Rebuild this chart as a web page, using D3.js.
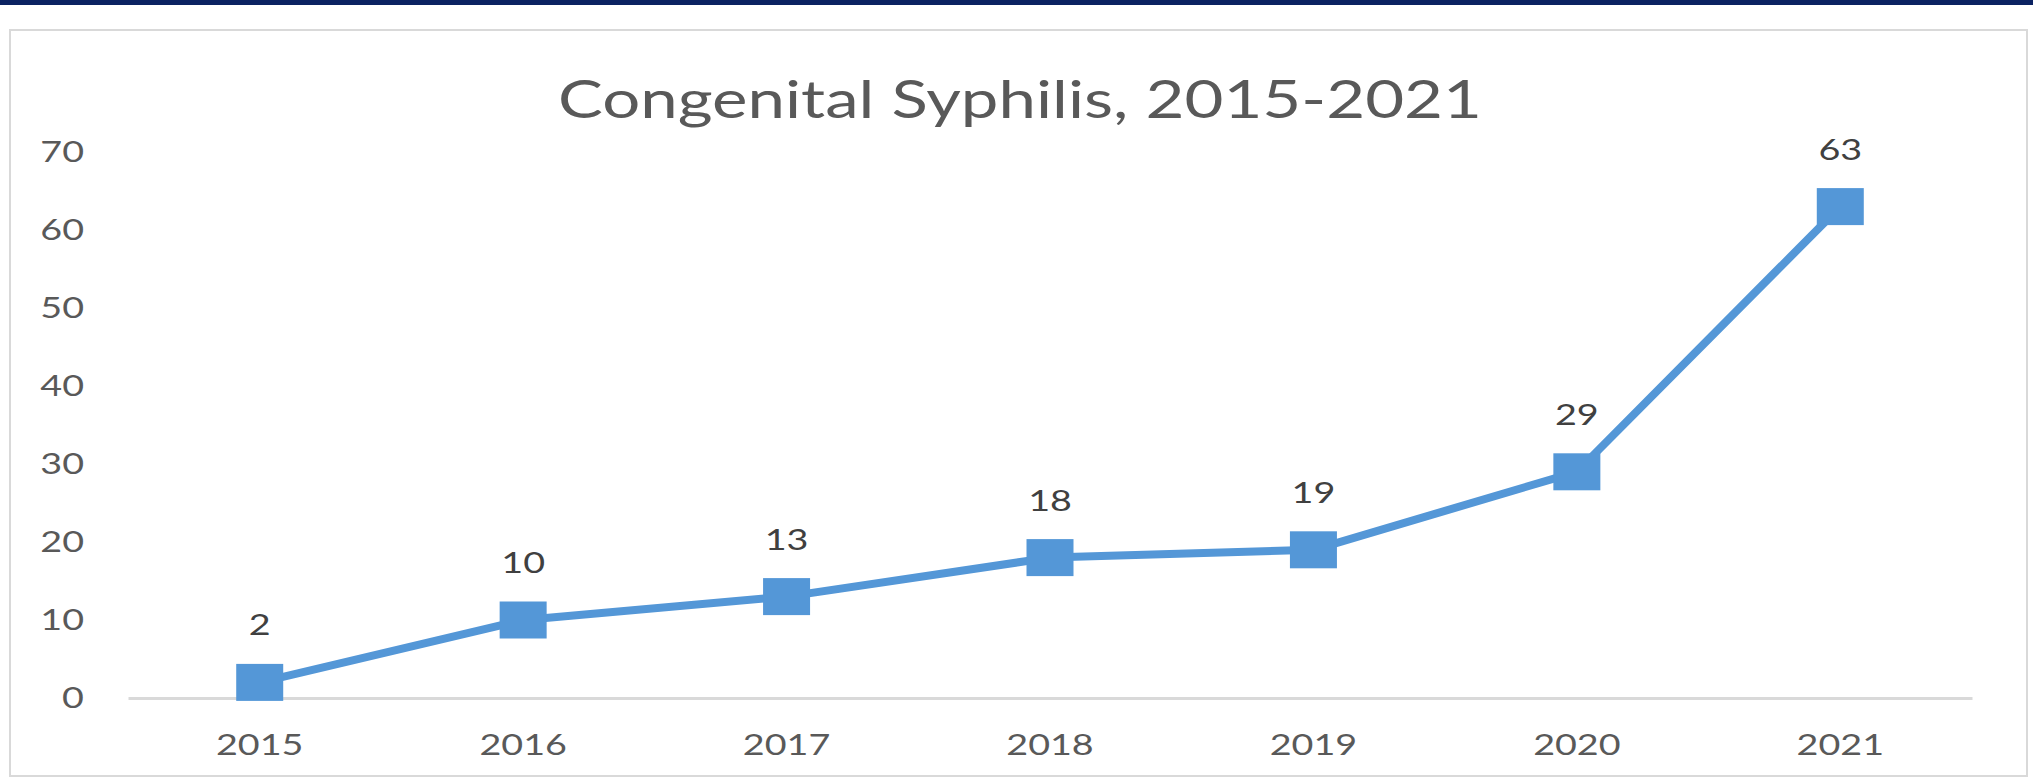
<html>
<head>
	<script src="https://d3js.org/d3.v7.min.js"></script>
	<style>
		body { margin: 0; background: #ffffff; }
		text { font-family: Lato, "Open Sans", sans-serif; }
	</style>
</head>
<body>
	<div id="viz"></div>

	<script>
	// data
	var title = "Congenital Syphilis, 2015-2021";
	var years = ["2015", "2016", "2017", "2018", "2019", "2020", "2021"];
	var cases = [2, 10, 13, 18, 19, 29, 63];
	var yTicks = [0, 10, 20, 30, 40, 50, 60, 70];

	var W = 2033, H = 783;
	var SX = 1.3; // picture is stretched sideways, so are the letters
	var blue = "#5497d7";

	var svg = d3.select("#viz").append("svg")
		.attr("width", W).attr("height", H);

	// navy strip at the very top
	svg.append("rect")
		.attr("x", 0).attr("y", 0).attr("width", W).attr("height", 5)
		.style("fill", "#0b2262");

	// chart frame
	svg.append("rect")
		.attr("x", 10).attr("y", 30).attr("width", 2017).attr("height", 746)
		.style("fill", "#ffffff").style("stroke", "#d9d9d9").style("stroke-width", 2);

	var x = d3.scaleBand().domain(years).range([128, 1972]);
	var y = d3.scaleLinear().domain([0, 70]).range([698, 152]);

	function cx(d, i) { return x(years[i]) + x.bandwidth() / 2; }

	// title
	svg.append("text")
		.attr("x", 1020).attr("y", 118)
		.attr("text-anchor", "middle")
		.attr("textLength", 924).attr("lengthAdjust", "spacingAndGlyphs")
		.style("font-size", "53px").style("fill", "#595959")
		.text(title);

	// y axis, labels only
	var yAxis = svg.append("g")
		.attr("transform", "translate(84,0)")
		.call(d3.axisLeft(y).tickValues(yTicks).tickSize(0).tickPadding(0));
	yAxis.select(".domain").remove();
	yAxis.selectAll("text")
		.attr("x", 0)
		.attr("transform", "scale(" + SX + ",1)")
		.style("font-size", "29px").style("fill", "#595959");

	// x axis with the light base line
	var xAxis = svg.append("g")
		.attr("transform", "translate(0,698)")
		.call(d3.axisBottom(x).tickSize(0).tickSizeOuter(0));
	xAxis.select(".domain").style("stroke", "#d9d9d9").style("stroke-width", 3);
	xAxis.selectAll("text")
		.attr("y", 36)
		.attr("transform", "scale(" + SX + ",1)")
		.style("font-size", "29px").style("fill", "#595959");

	// the series line
	var line = d3.line().x(cx).y(function(d) { return y(d); });
	svg.append("path")
		.datum(cases)
		.attr("d", line)
		.style("fill", "none").style("stroke", blue)
		.style("stroke-width", 8).style("stroke-linejoin", "round");

	// square markers
	svg.selectAll("rect.mark")
		.data(cases)
		.enter().append("rect")
		.attr("class", "mark")
		.attr("x", function(d, i) { return cx(d, i) - 23.5; })
		.attr("y", function(d) { return y(d) - 18.5; })
		.attr("width", 47).attr("height", 37)
		.style("fill", blue);

	// value labels above markers
	svg.selectAll("text.val")
		.data(cases)
		.enter().append("text")
		.attr("class", "val")
		.attr("text-anchor", "middle")
		.attr("transform", function(d, i) {
			return "translate(" + cx(d, i) + "," + (y(d) - 47) + ") scale(" + SX + ",1)";
		})
		.style("font-size", "29px").style("fill", "#404040")
		.text(function(d) { return d; });
	</script>
</body>
</html>
